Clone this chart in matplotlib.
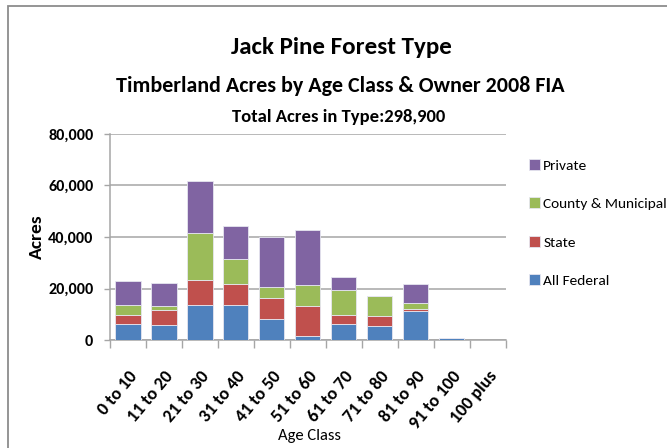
import matplotlib
matplotlib.use('Agg')
import matplotlib.pyplot as plt
from matplotlib.patches import Rectangle
from matplotlib.ticker import FuncFormatter, FixedLocator
import numpy as np

# Timberland acres by age class and owner (2008 FIA)
age_classes = ['0 to 10', '11 to 20', '21 to 30', '31 to 40', '41 to 50', '51 to 60',
               '61 to 70', '71 to 80', '81 to 90', '91 to 100', '100 plus']
federal = [6300, 5800, 13500, 13500, 8150, 1700, 6300, 5600, 11100, 800, 0]
state = [3250, 5700, 9950, 8400, 8150, 11500, 3250, 3650, 900, 0, 0]
county = [3900, 1550, 18250, 9450, 4250, 8150, 9850, 7900, 2200, 0, 0]
private = [9550, 9050, 19950, 13050, 19300, 21500, 5200, 0, 7650, 0, 0]
owners = ['All Federal', 'State', 'County & Municipal', 'Private']
colors = ['#4F81BD', '#C0504D', '#9BBB59', '#8064A2']

plt.rcParams['font.family'] = ['Carlito', 'DejaVu Sans']

W, H = 667, 448
fig = plt.figure(figsize=(W / 100, H / 100), dpi=100)
ax = fig.add_axes([110 / W, 1 - 340 / H, (505.7 - 110) / W, (340 - 134) / H])

x = np.arange(len(age_classes))
bottom = np.zeros(len(age_classes))
handles = []
for vals, col, name in zip([federal, state, county, private], colors, owners):
    b = ax.bar(x, vals, 0.7, bottom=bottom, color=col, edgecolor='#e6e6f0',
               linewidth=0.6, label=name, zorder=3)
    handles.append(b)
    bottom += np.array(vals)

ax.set_xlim(-0.5, len(age_classes) - 0.5)
ax.set_ylim(0, 80000)
ax.set_yticks(np.arange(0, 80001, 20000))
ax.yaxis.set_major_formatter(FuncFormatter(lambda v, p: '{:,.0f}'.format(v)))
ax.grid(axis='y', color='#a6a6a6', linewidth=1.1, zorder=0)

# category labels at centres, tick marks between categories
ax.set_xticks(x)
ax.set_xticklabels(age_classes, rotation=50, ha='right', va='top', rotation_mode='anchor',
                   fontsize=13, fontweight='bold')
ax.tick_params(axis='x', length=0, pad=20)
ax.xaxis.set_minor_locator(FixedLocator(np.arange(-0.5, len(age_classes), 1)))
ax.tick_params(axis='x', which='minor', length=6, width=1, color='#a6a6a6')
ax.tick_params(axis='y', length=4, width=1, color='#a6a6a6', labelsize=11.6, pad=8)
for lab in ax.get_yticklabels():
    lab.set_fontweight('bold')

for side in ['top', 'right']:
    ax.spines[side].set_visible(False)
for side in ['left', 'bottom']:
    ax.spines[side].set_color('#a6a6a6')
    ax.spines[side].set_linewidth(1.1)

ax.set_ylabel('Acres', fontsize=14, fontweight='bold', labelpad=2)
ax.set_xlabel('Age Class', fontsize=12)
ax.xaxis.set_label_coords((309 - 110) / 395.7, (340 - 429) / 206)

fig.text(341 / W, 1 - 47 / H, 'Jack Pine Forest Type', ha='center', va='center',
         fontsize=18, fontweight='bold')
fig.text(340 / W, 1 - 86 / H, 'Timberland Acres by Age Class & Owner 2008 FIA',
         ha='center', va='center', fontsize=15.8, fontweight='bold')
fig.text(339 / W, 1 - 117 / H, 'Total Acres in Type:298,900', ha='center', va='center',
         fontsize=13.4, fontweight='bold')

leg = fig.legend(handles[::-1], owners[::-1], loc='upper left',
                 bbox_to_anchor=(529 / W, 1 - 159 / H), frameon=False, fontsize=11.1,
                 handlelength=0.72, handleheight=0.72, handletextpad=0.2,
                 labelspacing=1.66, borderaxespad=0, borderpad=0)

# chart-area border
fig.patches.append(Rectangle((8 / W, -0.1), 1.2, 1 - 6.5 / H + 0.1, transform=fig.transFigure,
                             fill=False, edgecolor='#8c8c8c', linewidth=1.3))

fig.savefig('out.png', dpi=100)
